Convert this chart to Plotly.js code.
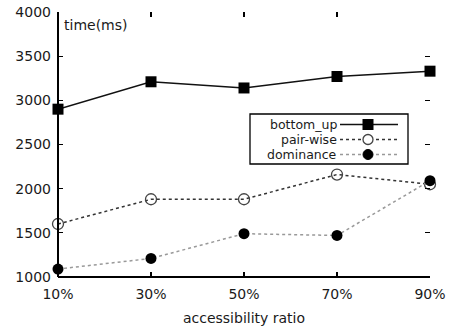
<!DOCTYPE html>
<html><head><meta charset="utf-8">
<script src="https://cdn.plot.ly/plotly-3.0.1.min.js"></script>
<style>html,body{margin:0;padding:0;background:#fff}#c{width:452px;height:328px}</style>
</head><body><div id="c"></div>
<script>
const ratios = [10, 30, 50, 70, 90];
const ratioLabels = ['10%', '30%', '50%', '70%', '90%'];
const bottomUp = [2900, 3210, 3140, 3270, 3330];
const pairWise = [1600, 1880, 1880, 2160, 2050];
const dominance = [1090, 1210, 1490, 1470, 2090];
const seriesNames = ['bottom_up', 'pair-wise', 'dominance'];

const W = 452, H = 328, L = 58, R = 22, T = 12, B = 51;
const pw = W - L - R, ph = H - T - B;
const px = x => (x - L) / pw;
const py = y => (H - B - y) / ph;
const FONT = {family: 'DejaVu Sans, sans-serif', size: 14, color: '#1a1a1a'};
const LFONT = {family: 'DejaVu Sans, sans-serif', size: 12.5, color: '#1a1a1a'};

const traces = [
  {x: ratios, y: bottomUp, name: seriesNames[0], mode: 'lines+markers', cliponaxis: false,
   line: {color: '#111', width: 1.5}, marker: {symbol: 'square', size: 11, color: '#000'}},
  {x: ratios, y: pairWise, name: seriesNames[1], mode: 'lines+markers', cliponaxis: false,
   line: {color: '#333', width: 1.5, dash: 'dot'}, marker: {symbol: 'circle-open', size: 11, color: '#444', line: {width: 1.3}}},
  {x: ratios, y: dominance, name: seriesNames[2], mode: 'lines+markers', cliponaxis: false,
   line: {color: '#999', width: 1.5, dash: 'dot'}, marker: {symbol: 'circle', size: 11, color: '#000'}}
];

const shapes = [
  {type: 'line', xref: 'paper', yref: 'paper', x0: 0, x1: 0, y0: 0, y1: 1, line: {color: '#000', width: 2}},
  {type: 'line', xref: 'paper', yref: 'paper', x0: 0, x1: 1, y0: 0, y1: 0, line: {color: '#000', width: 2}},
  {type: 'rect', xref: 'paper', yref: 'paper', x0: px(250), x1: px(408), y0: py(164), y1: py(114), line: {color: '#000', width: 1.3}, fillcolor: '#fff'}
];
const rows = [124.5, 139.5, 154.5];
const lineStyles = [traces[0].line, traces[1].line, traces[2].line];
const annotations = [
  {xref: 'paper', yref: 'paper', x: px(62), y: py(25), xanchor: 'left', yanchor: 'middle', text: 'time(ms)', showarrow: false, font: FONT}
];
rows.forEach((ry, i) => {
  shapes.push({type: 'line', xref: 'paper', yref: 'paper', x0: px(340), x1: px(398), y0: py(ry), y1: py(ry), line: lineStyles[i]});
  annotations.push({xref: 'paper', yref: 'paper', x: px(338), y: py(ry), xanchor: 'right', yanchor: 'middle', text: seriesNames[i], showarrow: false, font: LFONT, borderpad: 0});
});
// legend glyphs
shapes.push({type: 'rect', xref: 'paper', yref: 'paper', x0: px(362.5), x1: px(373.5), y0: py(rows[0] + 5.5), y1: py(rows[0] - 5.5), line: {width: 0}, fillcolor: '#000'});
shapes.push({type: 'circle', xref: 'paper', yref: 'paper', x0: px(363), x1: px(373), y0: py(rows[1] + 5), y1: py(rows[1] - 5), line: {color: '#444', width: 1.3}, fillcolor: '#fff'});
shapes.push({type: 'circle', xref: 'paper', yref: 'paper', x0: px(363), x1: px(373), y0: py(rows[2] + 5), y1: py(rows[2] - 5), line: {color: '#000', width: 1}, fillcolor: '#000'});

const layout = {
  width: W, height: H, margin: {l: L, r: R, t: T, b: B},
  paper_bgcolor: '#fff', plot_bgcolor: '#fff', showlegend: false, font: FONT,
  xaxis: {range: [10, 90], tickvals: ratios, ticktext: ratioLabels, showgrid: false, zeroline: false,
    showline: false, mirror: 'ticks', ticks: 'inside', ticklen: 5, tickwidth: 1.3, tickcolor: '#000',
    ticklabelstandoff: 7, tickfont: FONT, title: {text: 'accessibility ratio', font: FONT, standoff: 12}},
  yaxis: {range: [1000, 4000], dtick: 500, showgrid: false, zeroline: false,
    showline: false, mirror: 'ticks', ticks: 'inside', ticklen: 5, tickwidth: 1.3, tickcolor: '#000',
    ticklabelstandoff: 6, tickfont: FONT},
  shapes: shapes, annotations: annotations
};
Plotly.newPlot('c', traces, layout, {staticPlot: true, displayModeBar: false});
</script></body></html>
